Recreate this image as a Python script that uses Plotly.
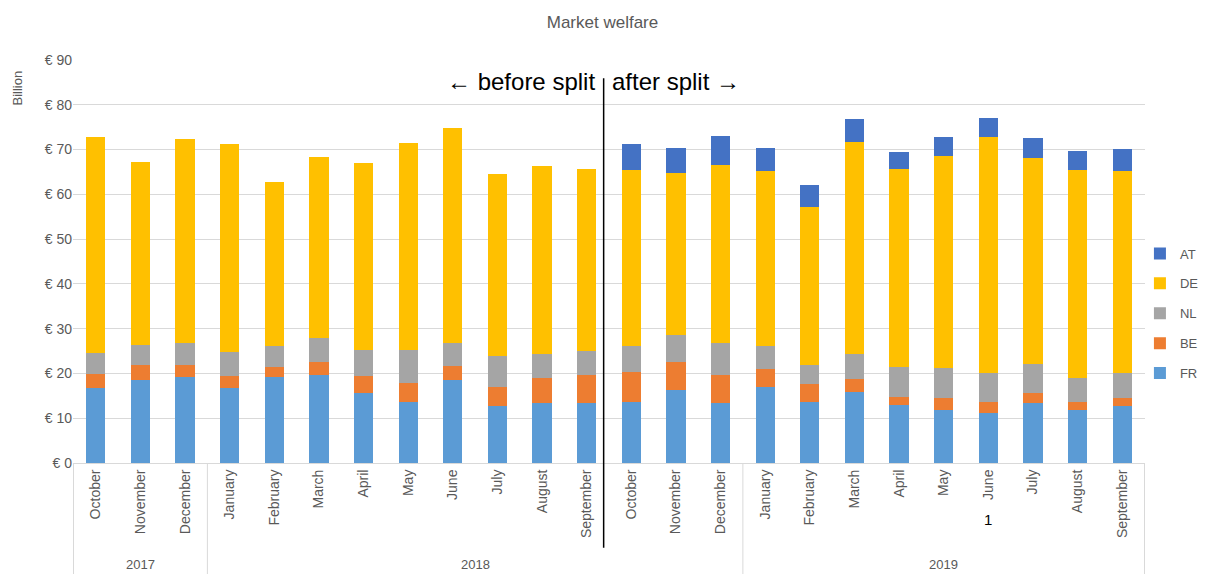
import plotly.graph_objects as go

months = ["October", "November", "December",
          "January", "February", "March", "April", "May", "June",
          "July", "August", "September",
          "October", "November", "December",
          "January", "February", "March", "April", "May", "June",
          "July", "August", "September"]
years = ["2017"] * 3 + ["2018"] * 12 + ["2019"] * 9

FR = [16.7, 18.5, 19.2, 16.7, 19.2, 19.6, 15.6, 13.6, 18.5, 12.7, 13.4, 13.4,
      13.6, 16.3, 13.4, 17.0, 13.6, 15.8, 12.9, 11.8, 11.2, 13.4, 11.8, 12.7]
BE = [3.2, 3.4, 2.7, 2.7, 2.2, 2.9, 3.8, 4.3, 3.2, 4.3, 5.6, 6.2,
      6.7, 6.2, 6.2, 4.0, 4.0, 3.0, 1.8, 2.7, 2.4, 2.2, 1.8, 1.8]
NL = [4.6, 4.4, 4.9, 5.4, 4.7, 5.4, 5.8, 7.3, 5.1, 6.9, 5.3, 5.4,
      5.8, 6.1, 7.2, 5.1, 4.3, 5.5, 6.7, 6.7, 6.5, 6.5, 5.4, 5.6]
DE = [48.3, 40.9, 45.5, 46.4, 36.6, 40.4, 41.8, 46.2, 48.0, 40.6, 42.0, 40.6,
      39.3, 36.1, 39.7, 39.1, 35.2, 47.4, 44.2, 47.3, 52.7, 46.0, 46.4, 45.1]
AT = [0, 0, 0, 0, 0, 0, 0, 0, 0, 0, 0, 0,
      5.8, 5.6, 6.5, 5.1, 5.0, 5.1, 3.8, 4.3, 4.2, 4.4, 4.2, 4.9]

series = [("FR", FR, "#5B9BD5"), ("BE", BE, "#ED7D31"), ("NL", NL, "#A5A5A5"),
          ("DE", DE, "#FFC000"), ("AT", AT, "#4472C4")]

split_after = "September 2018"   # last month before the split
note_month = "June 2019"         # month carrying the "1" note

cats = [f"{m} {y}" for m, y in zip(months, years)]

font_family = "Liberation Sans"
grey = "#595959"
fig = go.Figure()
for i, (name, vals, col) in enumerate(series):
    fig.add_trace(go.Bar(x=cats, y=vals, name=name, legendgroup=name,
                         legendrank=len(series) - i,
                         marker=dict(color=col, line=dict(width=0))))

fig.update_layout(
    barmode="stack",
    bargap=0.57,
    width=1205, height=574,
    margin=dict(l=73, r=60, t=60, b=111, autoexpand=False),
    plot_bgcolor="white", paper_bgcolor="white",
    font=dict(family=font_family, color=grey, size=12),
    title=dict(text="Market welfare", x=0.5, xanchor="center", y=0.962,
               yanchor="middle", font=dict(size=17, color=grey)),
    showlegend=True,
    legend=dict(traceorder="grouped", xref="container", x=0.946,
                xanchor="left", y=0.371, yanchor="middle", itemwidth=30,
                font=dict(size=13, color=grey), tracegroupgap=10,
                bgcolor="rgba(0,0,0,0)"),
)
fig.update_yaxes(range=[0, 90], dtick=10, tickprefix="€ ", showgrid=True,
                 gridcolor="#D9D9D9", gridwidth=1, zeroline=False,
                 tickfont=dict(size=14, color=grey), ticks="", showline=False)
fig.update_xaxes(type="category", tickmode="array", tickvals=cats, ticktext=months,
                 tickangle=-90, showline=True, linecolor="#D9D9D9",
                 tickfont=dict(size=14, color=grey), ticks="")

# year groups: dividers and labels
div_bottom = -111 / 403
groups = []
for i, y in enumerate(years):
    if not groups or groups[-1][0] != y:
        groups.append([y, i, i])
    else:
        groups[-1][2] = i
for y, s, e in groups:
    fig.add_annotation(text=y, xref="x", yref="paper", x=(s + e) / 2, y=-0.253,
                       yanchor="middle", showarrow=False,
                       font=dict(size=13, color=grey))
    fig.add_shape(type="line", xref="x", yref="paper", x0=s - 0.5, x1=s - 0.5,
                  y0=0, y1=div_bottom, line=dict(color="#D9D9D9", width=1))
fig.add_shape(type="line", xref="x", yref="paper", x0=len(cats) - 0.5,
              x1=len(cats) - 0.5, y0=0, y1=div_bottom,
              line=dict(color="#D9D9D9", width=1))

fig.add_annotation(text="Billion", xref="paper", yref="paper", x=-0.052, y=0.93,
                   xanchor="center", yanchor="middle",
                   textangle=-90, showarrow=False, font=dict(size=13, color=grey))

split_x = cats.index(split_after) + 0.5 - 0.12
fig.add_shape(type="line", xref="x", yref="paper", x0=split_x, x1=split_x,
              y0=-0.21, y1=0.955, line=dict(color="black", width=1.5))
fig.add_annotation(text="← before split", xref="x", yref="paper", x=split_x - 0.15,
                   y=0.947, xanchor="right", yanchor="middle", showarrow=False,
                   font=dict(size=24, color="black", family=font_family))
fig.add_annotation(text="after split →", xref="x", yref="paper", x=split_x + 0.15,
                   y=0.947, xanchor="left", yanchor="middle", showarrow=False,
                   font=dict(size=24, color="black", family=font_family))
fig.add_annotation(text="1", xref="x", yref="paper", x=cats.index(note_month),
                   y=-0.141, yanchor="middle", showarrow=False,
                   font=dict(size=15, color="black"))

fig.write_html("out.html", config={"displayModeBar": False},
               post_script="document.body.style.margin='0';"
                           "document.body.style.padding='0';")
